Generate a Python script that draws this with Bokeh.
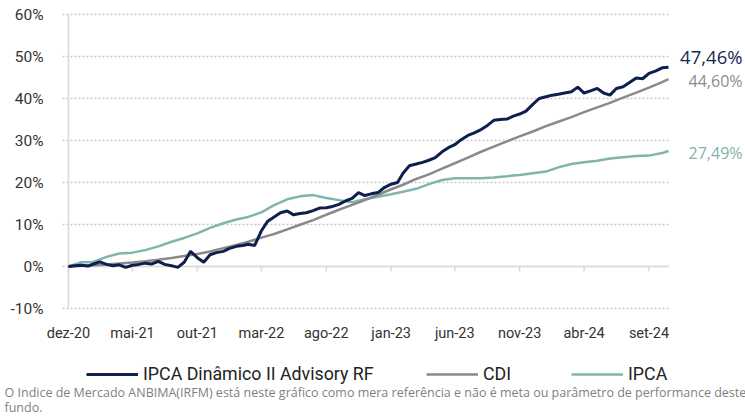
import pandas as pd
from bokeh.plotting import figure
from bokeh.models import (ColumnDataSource, FixedTicker, CustomJSTickFormatter, DatetimeAxis,
                          LinearAxis, Label, Legend, LegendItem, Range1d)
from bokeh.embed import file_html
from bokeh.resources import INLINE

# ---------------- data ----------------
start = pd.Timestamp("2020-12-31")
dates = [start + pd.offsets.SemiMonthEnd(k) for k in range(94)]   # semi-monthly

fund = [0, 0.2, 0.3, 0.1, 0.6, 1.1, 0.5, 0.2, 0.4, -0.2,
        0.3, 0.5, 0.8, 0.6, 1.2, 0.5, 0.2, -0.2, 1.0, 3.6,
        2.1, 1.0, 2.8, 3.3, 3.6, 4.3, 4.8, 5.0, 5.3, 5.0,
        8.5, 10.8, 11.8, 12.8, 13.2, 12.3, 12.6, 12.8, 13.3, 13.9,
        14.0, 14.3, 14.8, 15.6, 16.2, 17.6, 16.9, 17.3, 17.6, 18.8,
        19.6, 20.0, 22.2, 24.0, 24.4, 24.8, 25.3, 25.9, 27.3, 28.3,
        29.0, 30.2, 31.2, 31.8, 32.6, 33.6, 34.8, 35.0, 35.1, 35.8,
        36.3, 37.0, 38.6, 40.0, 40.4, 40.8, 41.0, 41.3, 41.6, 42.7,
        41.3, 41.8, 42.4, 41.3, 40.8, 42.4, 42.8, 43.8, 44.9, 44.7,
        46.0, 46.5, 47.3, 47.46]

monthly_dates = dates[0::2] + [dates[-1]]
cdi = [0.00, 0.15, 0.28, 0.48, 0.69, 0.96, 1.26, 1.62, 2.05, 2.50,
       2.99, 3.59, 4.37, 5.11, 5.90, 6.87, 7.75, 8.84, 9.93, 11.04,
       12.32, 13.52, 14.66, 15.81, 17.09, 18.39, 19.46, 20.84, 21.93, 23.28,
       24.58, 25.90, 27.32, 28.54, 29.81, 30.99, 32.14, 33.41, 34.46, 35.57,
       36.76, 37.88, 38.96, 40.21, 41.41, 42.58, 43.90, 44.60]
ipca = [0, 1.0, 1.1, 2.3, 3.1, 3.3, 3.9, 4.8, 5.9, 6.8,
        7.9, 9.2, 10.3, 11.2, 11.8, 12.9, 14.6, 16.0, 16.7, 17.0,
        16.3, 15.8, 15.3, 16.0, 16.6, 17.2, 17.8, 18.5, 19.6, 20.6,
        21.0, 21.0, 21.0, 21.2, 21.5, 21.8, 22.2, 22.6, 23.6, 24.4,
        24.8, 25.2, 25.7, 26.0, 26.3, 26.4, 27.0, 27.49]

series_names = ["IPCA Dinâmico II Advisory RF", "CDI", "IPCA"]
end_labels = ["47,46%", "44,60%", "27,49%"]

x_tick_dates = ["2020-12-31", "2021-05-31", "2021-10-31", "2022-03-31", "2022-08-31",
                "2023-01-31", "2023-06-30", "2023-11-30", "2024-04-30", "2024-09-30"]
x_tick_labels = ["dez-20", "mai-21", "out-21", "mar-22", "ago-22",
                 "jan-23", "jun-23", "nov-23", "abr-24", "set-24"]
y_ticks = [-10, 0, 10, 20, 30, 40, 50, 60]
y_tick_labels = ["-10%", "0%", "10%", "20%", "30%", "40%", "50%", "60%"]

footnote = ["O Indice de Mercado ANBIMA(IRFM) está neste gráfico como mera referência e não é meta ou parâmetro de performance deste",
            "fundo."]

# ---------------- style ----------------
FONT = "Roboto"
NAVY = "#0d1f4d"
GRAY = "#8a8a8a"
TEAL = "#80b5ac"
LIGHT = "#d9d9d9"
TXT = "#333333"

def ms(d):
    return pd.Timestamp(d).value / 1e6

tick_ms = [ms(d) for d in x_tick_dates]
tick_ts = [pd.Timestamp(d) for d in x_tick_dates]

# geometry (pixels): the frame fills the whole canvas, the plot area sits inside it
W, H = 745, 417
GX0, GX1 = 62, 668        # grid start / data end
GY0, GY1 = 14, 308        # top (60%) / bottom (-10%) grid lines
x_grid_start = pd.Timestamp("2020-12-17")
per_px = (dates[-1] - x_grid_start) / (GX1 - GX0)
x_lo = x_grid_start - per_px * GX0
x_hi = dates[-1] + per_px * (W - GX1)
y_hi_axis, y_lo_axis = max(y_ticks), min(y_ticks)
u_px = (y_hi_axis - y_lo_axis) / (GY1 - GY0)
y_lo = y_lo_axis - u_px * (H - GY1)
y_hi = y_hi_axis + u_px * GY0

p = figure(frame_width=W, frame_height=H, x_axis_type="datetime",
           x_axis_location=None, y_axis_location=None,
           output_backend="svg", toolbar_location=None,
           x_range=Range1d(x_lo, x_hi), y_range=Range1d(y_lo, y_hi),
           min_border=0)
p.outline_line_color = None
p.xgrid.grid_line_color = None
p.ygrid.grid_line_color = None

# y axis anchored at the grid start
yax = LinearAxis(fixed_location=ms(x_grid_start))
yax.ticker = FixedTicker(ticks=y_ticks)
yax.major_label_overrides = {float(t): l for t, l in zip(y_ticks, y_tick_labels)}
yax.axis_line_color = None
yax.major_tick_line_color = None
yax.minor_tick_line_color = None
yax.major_label_standoff = 13
yax.major_label_text_font = FONT
yax.major_label_text_font_size = "15.5px"
yax.major_label_text_color = TXT
p.add_layout(yax, "left")

# x axis anchored at the -10% line
xax = DatetimeAxis(fixed_location=y_lo_axis)
xax.ticker = FixedTicker(ticks=tick_ms)
xax.formatter = CustomJSTickFormatter(args=dict(tvals=tick_ms, tlabels=x_tick_labels),
    code="const i = tvals.indexOf(tick); return i >= 0 ? tlabels[i] : '';")
xax.axis_line_color = None
xax.major_tick_line_color = None
xax.minor_tick_line_color = None
xax.major_label_standoff = 10
xax.major_label_text_font = FONT
xax.major_label_text_font_size = "14.5px"
xax.major_label_text_color = TXT
p.add_layout(xax, "below")

# dotted horizontal grid over the data span
grid_src = ColumnDataSource(dict(x0=[x_grid_start] * len(y_ticks), x1=[dates[-1]] * len(y_ticks),
                                 y=y_ticks))
p.segment(x0="x0", y0="y", x1="x1", y1="y", source=grid_src, line_color="#c9c9c9",
          line_width=1.5, line_dash="2 2")

# vertical axis line, zero line and ticks on it
p.line(x=[tick_ts[0], tick_ts[0]], y=[y_lo_axis, y_hi_axis], line_color=LIGHT, line_width=1.5)
p.line(x=[tick_ts[0], dates[-1]], y=[0, 0], line_color=LIGHT, line_width=1.5)
tick_src = ColumnDataSource(dict(x=tick_ts, y0=[0] * len(tick_ts), y1=[-1.2] * len(tick_ts)))
p.segment(x0="x", y0="y0", x1="x", y1="y1", source=tick_src, line_color=LIGHT, line_width=1.5)

src_f = ColumnDataSource(dict(x=dates, y=fund))
src_m = ColumnDataSource(dict(x=monthly_dates, cdi=cdi, ipca=ipca))

r_ipca = p.line("x", "ipca", source=src_m, line_color=TEAL, line_width=2.5)
r_cdi = p.line("x", "cdi", source=src_m, line_color=GRAY, line_width=2.5)
r_fund = p.line("x", "y", source=src_f, line_color=NAVY, line_width=3)

# end labels
p.add_layout(Label(x=dates[-1], y=fund[-1], text=end_labels[0], x_offset=74, y_offset=11,
                   text_align="right", text_baseline="middle", text_font="Open Sans",
                   text_font_size="18.5px", text_color="#1a2855"))
p.add_layout(Label(x=monthly_dates[-1], y=cdi[-1], text=end_labels[1], x_offset=74, y_offset=-2,
                   text_align="right", text_baseline="middle", text_font="Open Sans",
                   text_font_size="16px", text_color="#8c8c8c"))
p.add_layout(Label(x=monthly_dates[-1], y=ipca[-1], text=end_labels[2], x_offset=74, y_offset=-2,
                   text_align="right", text_baseline="middle", text_font="Open Sans",
                   text_font_size="16px", text_color="#7fb3ab"))

# legends (screen positions inside the canvas-wide frame)
for r, name, xloc in zip([r_fund, r_cdi, r_ipca], series_names, [86, 426, 571]):
    lg = Legend(items=[LegendItem(label=name, renderers=[r])], location=(xloc, 33),
                orientation="horizontal", glyph_width=52, glyph_height=20, label_height=20,
                label_standoff=5, padding=0, margin=0, border_line_color=None,
                background_fill_alpha=0, label_text_font=FONT, label_text_font_size="17.8px",
                label_text_color="#222222")
    p.add_layout(lg)

# footnote
for i, line in enumerate(footnote):
    p.add_layout(Label(x=4, y=25 - 15 * i, x_units="screen", y_units="screen", text=line,
                       text_baseline="middle", text_font="Open Sans", text_font_size="12.5px",
                       text_color="#7f7f7f"))

open("out.html", "w").write(file_html(p, INLINE))
